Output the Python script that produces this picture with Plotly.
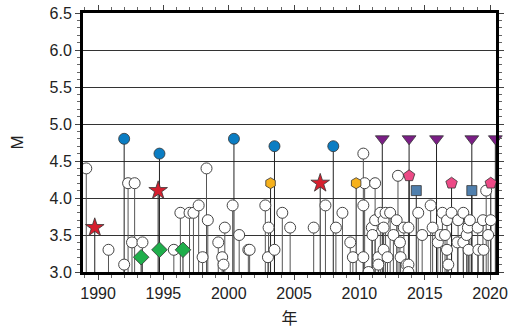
import plotly.graph_objects as go

# ---- data ----
white_year = [1989.1, 1990.8, 1992.0, 1992.3, 1992.8, 1992.6, 1993.4, 1995.8, 1996.3, 1997.0,
              1997.3, 1997.7, 1998.0, 1998.4, 1998.3, 1999.2, 1999.5, 1999.6, 1999.7, 2000.3,
              2000.8, 2001.5, 2001.6, 2002.8, 2003.0, 2003.05, 2003.5, 2004.1, 2004.7, 2006.5,
              2007.4, 2008.2, 2008.7, 2009.3, 2009.5, 2010.3, 2010.4, 2011.2, 2010.3, 2010.3,
              2010.7, 2010.95, 2011.0, 2011.2, 2011.45, 2011.45, 2011.6, 2011.85, 2011.85, 2011.85,
              2012.0, 2012.15, 2012.35, 2012.6, 2012.85, 2012.95, 2013.1, 2013.15, 2013.4, 2013.6,
              2013.75, 2013.75, 2013.75, 2014.5, 2014.8, 2015.45, 2015.6, 2016.0, 2016.2, 2016.35,
              2016.55, 2016.7, 2016.7, 2016.8, 2017.05, 2017.5, 2017.55, 2017.95, 2017.95, 2018.2,
              2018.3, 2018.35, 2018.45, 2019.05, 2019.1, 2019.45, 2019.5, 2019.7, 2019.85, 2020.05]
white_m = [4.4, 3.3, 3.1, 4.2, 4.2, 3.4, 3.4, 3.3, 3.8, 3.8,
           3.8, 3.9, 3.2, 3.7, 4.4, 3.4, 3.2, 3.1, 3.6, 3.9,
           3.5, 3.3, 3.3, 3.9, 3.2, 3.6, 3.3, 3.8, 3.6, 3.6,
           3.9, 3.6, 3.8, 3.4, 3.2, 4.6, 4.2, 4.2, 3.9, 3.2,
           3.0, 3.6, 3.5, 3.7, 3.2, 3.1, 3.8, 3.7, 3.6, 3.3,
           3.8, 3.2, 3.8, 3.5, 3.7, 4.3, 3.4, 3.2, 3.6, 3.1,
           3.6, 3.1, 3.0, 3.8, 3.5, 3.9, 3.6, 3.4, 3.5, 3.8,
           3.5, 3.7, 3.3, 3.1, 3.8, 3.4, 3.7, 3.8, 3.4, 3.5,
           3.6, 3.3, 3.7, 3.6, 3.3, 3.7, 3.3, 4.1, 3.5, 3.7]

star_year = [1989.75, 1994.6, 2007.0]
star_m = [3.6, 4.1, 4.2]
bluec_year = [1992.0, 1994.7, 2000.4, 2003.5, 2008.0]
bluec_m = [4.8, 4.6, 4.8, 4.7, 4.7]
diam_year = [1993.3, 1994.7, 1996.5]
diam_m = [3.2, 3.3, 3.3]
hex_year = [2003.2, 2009.75]
hex_m = [4.2, 4.2]
tri_year = [2011.75, 2013.8, 2015.9, 2018.6, 2020.4]
tri_m = [4.8, 4.8, 4.8, 4.8, 4.8]
pent_year = [2013.8, 2017.05, 2020.05]
pent_m = [4.3, 4.2, 4.2]
sq_year = [2014.35, 2018.6]
sq_m = [4.1, 4.1]

Y_BASE = 3.0

def stems(xs, ys):
    sx, sy = [], []
    for x, y in zip(xs, ys):
        sx += [x, x, None]
        sy += [Y_BASE, y, None]
    return sx, sy

fig = go.Figure()

wx, wy = stems(white_year, white_m)
fig.add_trace(go.Scatter(x=wx, y=wy, mode="lines", line=dict(color="#555555", width=1),
                         hoverinfo="skip", showlegend=False))
cx, cy = stems(star_year + bluec_year + diam_year + hex_year + tri_year + pent_year + sq_year,
               star_m + bluec_m + diam_m + hex_m + tri_m + pent_m + sq_m)
fig.add_trace(go.Scatter(x=cx, y=cy, mode="lines", line=dict(color="#222222", width=1),
                         hoverinfo="skip", showlegend=False))

fig.add_trace(go.Scatter(x=white_year, y=white_m, mode="markers", showlegend=False,
                         marker=dict(symbol="circle", size=11, color="white",
                                     line=dict(color="#444444", width=1))))

def add_markers(xs, ys, symbol, size, color):
    fig.add_trace(go.Scatter(x=xs, y=ys, mode="markers", showlegend=False, cliponaxis=False,
                             marker=dict(symbol=symbol, size=size, color=color,
                                         line=dict(color="#333333", width=0.8))))

add_markers(star_year, star_m, "star", 14, "#d61f2e")
add_markers(bluec_year, bluec_m, "circle", 11, "#0b7dc3")
add_markers(diam_year, diam_m, "diamond", 12, "#1fae4b")
add_markers(hex_year, hex_m, "hexagon", 11, "#f6b11c")
add_markers(tri_year, tri_m, "triangle-down", 12, "#7b1e86")
add_markers(pent_year, pent_m, "pentagon", 12, "#ec4a86")
add_markers(sq_year, sq_m, "square", 10, "#4f7fad")

tickfont = dict(family="Arial, Liberation Sans, sans-serif", size=16, color="#222222")

fig.update_layout(
    width=511, height=329,
    margin=dict(l=83, r=15, t=13, b=57),
    paper_bgcolor="white", plot_bgcolor="white",
    showlegend=False,
    xaxis=dict(range=[1988.85, 2020.45], tickmode="linear", tick0=1990, dtick=5,
               automargin=False,
               ticks="outside", ticklen=5, tickwidth=1, tickcolor="#444444",
               minor=dict(dtick=1, tick0=1990, ticks="outside", ticklen=3, tickcolor="#666666", showgrid=False),
               showgrid=False, zeroline=False,
               showline=True, linewidth=3, linecolor="black", mirror="allticks",
               tickfont=tickfont,
               title=dict(text="年", font=dict(family="Noto Sans CJK JP", size=16, color="#222222"), standoff=13)),
    yaxis=dict(range=[3.0, 6.5], tickmode="linear", tick0=3.0, dtick=0.5, tickformat=".1f",
               automargin=False,
               ticks="outside", ticklen=5, tickwidth=1, tickcolor="#444444",
               minor=dict(dtick=0.1, ticks="outside", ticklen=3, tickcolor="#666666", showgrid=False),
               showgrid=True, gridcolor="#333333", gridwidth=1, zeroline=False,
               showline=True, linewidth=3, linecolor="black", mirror="allticks",
               tickfont=tickfont,
               title=dict(text="M", font=dict(family="Arial, Liberation Sans, sans-serif", size=17, color="#222222"), standoff=22)),
)

fig.write_html("out.html", config={"displayModeBar": False},
               post_script="document.body.style.margin='0';document.body.style.overflow='hidden';")
